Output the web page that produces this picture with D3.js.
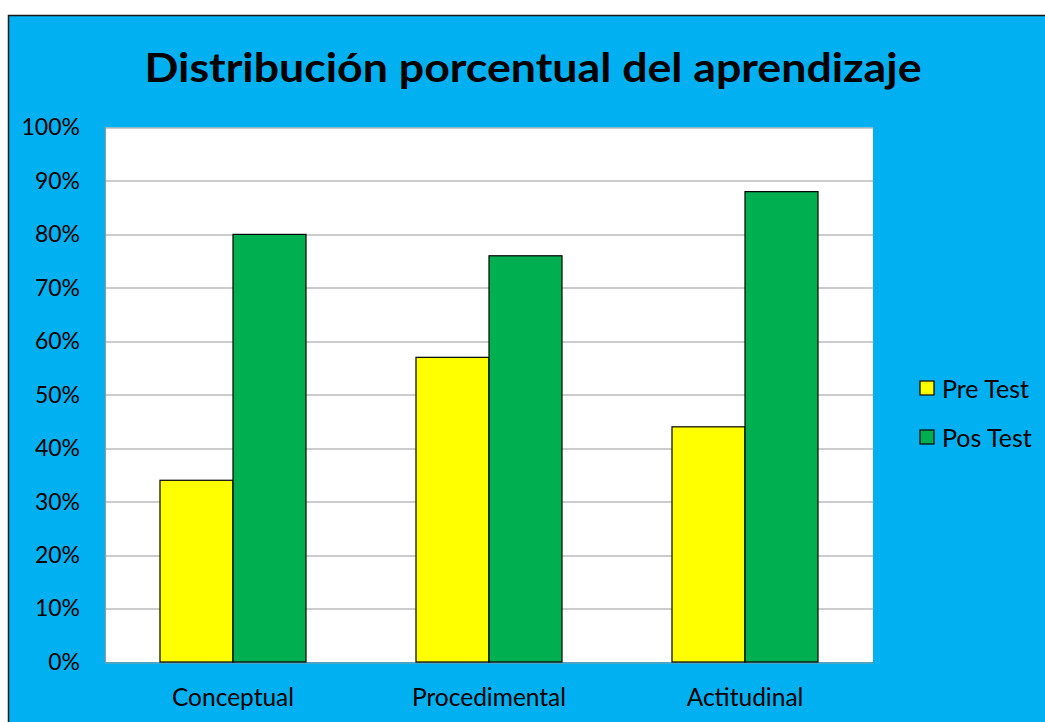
<!DOCTYPE html>
<meta charset="utf-8">
<script src="https://cdn.jsdelivr.net/npm/d3@7"></script>
<style>
    body { margin: 0; background: #fff; }
    text { font-family: Lato, "Open Sans", sans-serif; fill: #000; }
</style>
<svg width="1045" height="722" class="chart"></svg>
<script>

var categories = ['Conceptual', 'Procedimental', 'Actitudinal'];
var seriesNames = ['Pre Test', 'Pos Test'];
var preTest = [34, 57, 44];
var posTest = [80, 76, 88];
var yTicks = [0, 10, 20, 30, 40, 50, 60, 70, 80, 90, 100];
var colors = ['#FFFF00', '#00B050'];

var svg = d3.select('svg.chart');

// chart area (blue) with dark top/left edge
svg.append('rect')
    .attr('x', 8.5).attr('y', 15.5)
    .attr('width', 1045).attr('height', 722)
    .attr('fill', '#00B0F0')
    .attr('stroke', '#1a1a1a')
    .attr('stroke-width', 1.5);

svg.append('text')
    .attr('x', 533).attr('y', 82)
    .attr('text-anchor', 'middle')
    .attr('font-size', 41)
    .attr('font-weight', 'bold')
    .attr('textLength', 777)
    .attr('lengthAdjust', 'spacingAndGlyphs')
    .text('Distribución porcentual del aprendizaje');

var margin = {top: 127.5, left: 105, right: 1045 - 873, bottom: 722 - 662},
    width = 1045 - margin.left - margin.right,
    height = 722 - margin.top - margin.bottom;

var plot = svg.append('g')
    .attr('transform', 'translate(' + margin.left + ',' + margin.top + ')');

plot.append('rect')
    .attr('width', width).attr('height', height)
    .attr('fill', '#fff');

var x0 = d3.scaleBand()
    .domain(categories)
    .range([0, width])
    .paddingInner(0)
    .paddingOuter(0);

var x1 = d3.scaleBand()
    .domain(seriesNames)
    .range([x0.bandwidth() / 2 - 73, x0.bandwidth() / 2 + 73]);

var y = d3.scaleLinear()
    .domain([0, 100])
    .range([height, 0]);

// gridlines
plot.selectAll('line.grid')
    .data(yTicks)
    .enter().append('line')
    .attr('class', 'grid')
    .attr('x1', 0).attr('x2', width)
    .attr('y1', function(d) { return Math.round(y(d)) + 0.5; })
    .attr('y2', function(d) { return Math.round(y(d)) + 0.5; })
    .attr('stroke', '#999')
    .attr('stroke-width', 1.2);

plot.append('line')
    .attr('x1', 0.5).attr('x2', 0.5)
    .attr('y1', 0).attr('y2', height)
    .attr('stroke', '#999').attr('stroke-width', 1.2);

// y axis labels
var yAxis = d3.axisLeft(y)
    .tickValues(yTicks)
    .tickSize(0)
    .tickPadding(25)
    .tickFormat(function(d) { return d + '%'; });

var ya = plot.append('g').call(yAxis);
ya.select('.domain').remove();
ya.selectAll('text')
    .attr('font-size', 23)
    .attr('font-family', 'Lato, "Open Sans", sans-serif')
    .attr('fill', '#000');

// x axis labels
var xAxis = d3.axisBottom(x0).tickSize(0).tickPadding(27);
var xa = plot.append('g')
    .attr('transform', 'translate(0,' + height + ')')
    .call(xAxis);
xa.select('.domain').remove();
xa.selectAll('text')
    .attr('font-size', 24.5)
    .attr('font-family', 'Lato, "Open Sans", sans-serif')
    .attr('fill', '#000');

// bars
var rows = categories.map(function(c, i) {
    return {cat: c, values: [preTest[i], posTest[i]]};
});

var groups = plot.selectAll('g.cat')
    .data(rows)
    .enter().append('g')
    .attr('class', 'cat')
    .attr('transform', function(d) { return 'translate(' + x0(d.cat) + ',0)'; });

groups.selectAll('rect')
    .data(function(d) {
        return d.values.map(function(v, j) { return {name: seriesNames[j], value: v, j: j}; });
    })
    .enter().append('rect')
    .attr('x', function(d) { return x1(d.name); })
    .attr('y', function(d) { return y(d.value); })
    .attr('width', x1.bandwidth())
    .attr('height', function(d) { return height - y(d.value); })
    .attr('fill', function(d) { return colors[d.j]; })
    .attr('stroke', '#000')
    .attr('stroke-width', 1.2);

// legend
var legend = svg.append('g').attr('transform', 'translate(920,381)');
var li = legend.selectAll('g')
    .data(seriesNames)
    .enter().append('g')
    .attr('transform', function(d, i) { return 'translate(0,' + i * 49 + ')'; });

li.append('rect')
    .attr('width', 14).attr('height', 14)
    .attr('fill', function(d, i) { return colors[i]; })
    .attr('stroke', '#000')
    .attr('stroke-width', 1.2);

li.append('text')
    .attr('x', 22).attr('y', 8)
    .attr('dy', '0.35em')
    .attr('font-size', 25)
    .text(function(d) { return d; });

</script>
